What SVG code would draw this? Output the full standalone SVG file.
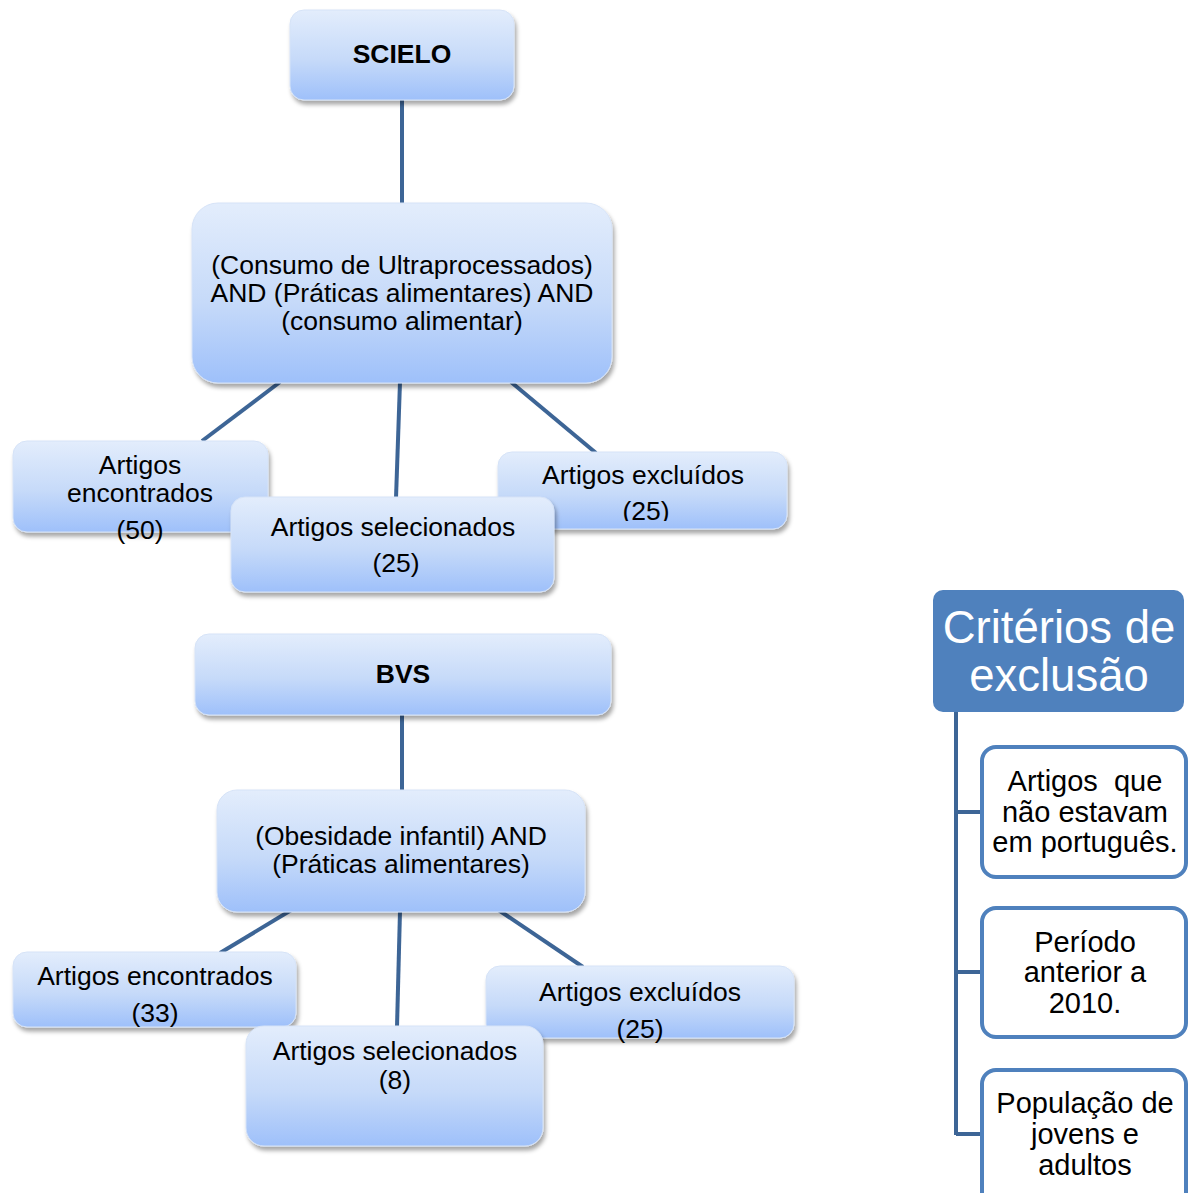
<svg xmlns="http://www.w3.org/2000/svg" width="1189" height="1193" viewBox="0 0 1189 1193">
<defs>
<linearGradient id="g" x1="0" y1="0" x2="0" y2="1">
<stop offset="0" stop-color="#e3edfc"/>
<stop offset="0.55" stop-color="#c6daf9"/>
<stop offset="1" stop-color="#9ec0fa"/>
</linearGradient>
<filter id="sh" x="-10%" y="-10%" width="125%" height="130%">
<feDropShadow dx="2" dy="4" stdDeviation="2.2" flood-color="#000" flood-opacity="0.35"/>
</filter>
<clipPath id="c1"><rect x="498" y="452" width="290" height="69"/></clipPath>
</defs>
<style>
.b{fill:url(#g);filter:url(#sh);stroke:#d6e3f7;stroke-width:1}
.t{font-family:"Liberation Sans",Arial,sans-serif;font-size:26.5px;fill:#000;text-anchor:middle}
.bold{font-weight:bold}
.con{stroke:#3d6596;stroke-width:4;fill:none}
.cb{fill:#fff;stroke:#4f81bd;stroke-width:4}
.ct{font-family:"Liberation Sans",Arial,sans-serif;font-size:29px;fill:#000;text-anchor:middle}
</style>
<g id="connectors">
<line class="con" x1="402" y1="100" x2="402" y2="204"/>
<line class="con" x1="280" y1="382" x2="202" y2="441"/>
<line class="con" x1="400" y1="382" x2="396" y2="498"/>
<line class="con" x1="511" y1="382" x2="596" y2="453"/>
<line class="con" x1="402" y1="715" x2="402" y2="791"/>
<line class="con" x1="293" y1="909" x2="220" y2="953"/>
<line class="con" x1="400" y1="911" x2="397" y2="1027"/>
<line class="con" x1="497" y1="909" x2="583" y2="967"/>
<path class="con" d="M956 712 V1135 M956 812 H982 M956 972 H982 M956 1134 H982" stroke-width="5"/>
</g>
<g id="scielo">
<rect class="b" x="290" y="10" width="224" height="90" rx="14"/>
<text class="t bold" x="402" y="63">SCIELO</text>
</g>
<g id="query1">
<rect class="b" x="192" y="203" width="420" height="180" rx="26"/>
<text class="t" x="402" y="274">(Consumo de Ultraprocessados)</text>
<text class="t" x="402" y="302">AND (Práticas alimentares) AND</text>
<text class="t" x="402" y="330">(consumo alimentar)</text>
</g>
<g id="enc50">
<rect class="b" x="13" y="441" width="255" height="91" rx="14"/>
<text class="t" x="140" y="474">Artigos</text>
<text class="t" x="140" y="502">encontrados</text>
<text class="t" x="140" y="539">(50)</text>
</g>
<g id="exc25a">
<rect class="b" x="498" y="452" width="289" height="77" rx="14"/>
<g clip-path="url(#c1)">
<text class="t" x="643" y="484">Artigos excluídos</text>
<text class="t" x="646" y="520">(25)</text>
</g>
</g>
<g id="sel25">
<rect class="b" x="231" y="497" width="323" height="95" rx="14"/>
<text class="t" x="393" y="536">Artigos selecionados</text>
<text class="t" x="396" y="572">(25)</text>
</g>
<g id="bvs">
<rect class="b" x="195" y="634" width="416" height="81" rx="14"/>
<text class="t bold" x="403" y="683">BVS</text>
</g>
<g id="query2">
<rect class="b" x="217" y="790" width="368" height="122" rx="20"/>
<text class="t" x="401" y="845">(Obesidade infantil) AND</text>
<text class="t" x="401" y="873">(Práticas alimentares)</text>
</g>
<g id="enc33">
<rect class="b" x="13" y="952" width="283" height="75" rx="14"/>
<text class="t" x="155" y="985">Artigos encontrados</text>
<text class="t" x="155" y="1022">(33)</text>
</g>
<g id="exc25b">
<rect class="b" x="486" y="966" width="308" height="72" rx="14"/>
<text class="t" x="640" y="1001">Artigos excluídos</text>
<text class="t" x="640" y="1038">(25)</text>
</g>
<g id="sel8">
<rect class="b" x="246" y="1026" width="297" height="120" rx="18"/>
<text class="t" x="395" y="1060">Artigos selecionados</text>
<text class="t" x="395" y="1089">(8)</text>
</g>
<g id="criterios">
<rect x="933" y="590" width="251" height="122" rx="10" fill="#4f81bd"/>
<text x="1059" y="643" font-family="Liberation Sans, Arial, sans-serif" font-size="45.5" fill="#fff" text-anchor="middle">Critérios de</text>
<text x="1059" y="691" font-family="Liberation Sans, Arial, sans-serif" font-size="45.5" fill="#fff" text-anchor="middle">exclusão</text>
</g>
<g id="crit1">
<rect class="cb" x="982" y="747" width="204" height="130" rx="14"/>
<text class="ct" x="1085" y="791">Artigos&#160; que</text>
<text class="ct" x="1085" y="822">não estavam</text>
<text class="ct" x="1085" y="852">em português.</text>
</g>
<g id="crit2">
<rect class="cb" x="982" y="908" width="204" height="129" rx="14"/>
<text class="ct" x="1085" y="952">Período</text>
<text class="ct" x="1085" y="982">anterior a</text>
<text class="ct" x="1085" y="1013">2010.</text>
</g>
<g id="crit3">
<rect class="cb" x="982" y="1070" width="204" height="140" rx="14"/>
<text class="ct" x="1085" y="1113">População de</text>
<text class="ct" x="1085" y="1144">jovens e</text>
<text class="ct" x="1085" y="1175">adultos</text>
</g>
</svg>
